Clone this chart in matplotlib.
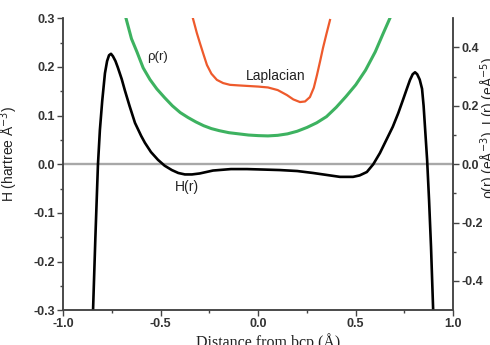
import matplotlib
matplotlib.use('Agg')
import matplotlib.pyplot as plt

# values
h_x = [-0.847, -0.835, -0.822, -0.812, -0.800, -0.786, -0.775, -0.765, -0.755, -0.745, -0.732,
       -0.720, -0.700, -0.684, -0.660, -0.632, -0.600, -0.581, -0.550, -0.514, -0.480, -0.443,
       -0.410, -0.376, -0.340, -0.300, -0.232, -0.140, -0.058, 0.030, 0.111, 0.200, 0.281,
       0.350, 0.419, 0.486, 0.520, 0.557, 0.590, 0.624, 0.657, 0.690, 0.718, 0.742, 0.762,
       0.778, 0.792, 0.804, 0.815, 0.828, 0.840, 0.848, 0.855, 0.866, 0.876, 0.886, 0.897]
h_y = [-0.300, -0.150, -0.002, 0.070, 0.130, 0.187, 0.212, 0.224, 0.227, 0.222, 0.212,
       0.199, 0.175, 0.152, 0.120, 0.085, 0.058, 0.044, 0.025, 0.009, -0.003, -0.012,
       -0.018, -0.021, -0.021, -0.019, -0.013, -0.010, -0.010, -0.011, -0.012, -0.014, -0.018,
       -0.022, -0.026, -0.026, -0.023, -0.016, 0.000, 0.023, 0.050, 0.077, 0.105, 0.132, 0.155,
       0.173, 0.185, 0.189, 0.185, 0.174, 0.155, 0.120, 0.077, 0.009, -0.074, -0.170, -0.300]

rho_x = [-0.678, -0.650, -0.622, -0.590, -0.555, -0.520, -0.480, -0.440, -0.400, -0.360, -0.320,
         -0.280, -0.240, -0.200, -0.150, -0.100, -0.050, 0.000, 0.050, 0.100, 0.150, 0.200,
         0.250, 0.300, 0.350, 0.400, 0.450, 0.500, 0.550, 0.600, 0.640, 0.675]
rho_y = [0.500, 0.430, 0.385, 0.330, 0.290, 0.258, 0.228, 0.200, 0.177, 0.160, 0.145,
         0.132, 0.122, 0.115, 0.108, 0.104, 0.100, 0.098, 0.097, 0.099, 0.104, 0.113,
         0.126, 0.142, 0.163, 0.195, 0.232, 0.272, 0.322, 0.385, 0.447, 0.500]

lap_x = [-0.335, -0.315, -0.299, -0.280, -0.263, -0.240, -0.212, -0.180, -0.145, -0.100, -0.050,
         0.000, 0.050, 0.100, 0.147, 0.180, 0.214, 0.240, 0.265, 0.285, 0.301, 0.318, 0.332,
         0.350, 0.368]
lap_y = [0.500, 0.450, 0.415, 0.375, 0.340, 0.310, 0.289, 0.278, 0.272, 0.270, 0.268,
         0.266, 0.263, 0.254, 0.237, 0.222, 0.213, 0.215, 0.230, 0.262, 0.305, 0.355, 0.398,
         0.447, 0.494]

x_ticks = [-1.0, -0.5, 0.0, 0.5, 1.0]
h_ticks = [-0.3, -0.2, -0.1, 0.0, 0.1, 0.2, 0.3]
r_ticks = [-0.4, -0.2, 0.0, 0.2, 0.4]

plt.rcParams['font.family'] = ['Liberation Sans', 'DejaVu Sans']

fig = plt.figure(figsize=(4.9, 3.45), dpi=100)
ax = fig.add_axes([0.129, 0.101, 0.796, 0.846])
ax2 = ax.twinx()

ax.axhline(0, color='#a8a8a8', lw=1.7, zorder=1)
ax.plot(h_x, h_y, color='black', lw=1.9, zorder=3)
ax2.plot(rho_x, rho_y, color='#3db260', lw=2.2)
ax2.plot(lap_x, lap_y, color='#ee5a2c', lw=1.6)

ax.set_xlim(-1.0, 1.0)
ax.set_ylim(-0.3, 0.3)
ax2.set_ylim(-0.5, 0.5)

ax.set_xticks(x_ticks)
ax.set_xticks([-0.75, -0.25, 0.25, 0.75], minor=True)
ax.set_xticklabels(['%.1f' % v for v in x_ticks], fontweight='bold')
ax.set_yticks(h_ticks)
ax.set_yticks([-0.25, -0.15, -0.05, 0.05, 0.15, 0.25], minor=True)
ax.set_yticklabels(['%.1f' % v for v in h_ticks], fontweight='bold')
ax2.set_yticks(r_ticks)
ax2.set_yticks([-0.3, -0.1, 0.1, 0.3], minor=True)
ax2.set_yticklabels(['%.1f' % v for v in r_ticks], fontweight='bold')

for a in (ax, ax2):
    a.spines['top'].set_visible(False)
    for s in a.spines.values():
        s.set_color('#444444')
        s.set_linewidth(1.1)
    a.tick_params(which='major', direction='out', length=4, width=1.0, color='#444444',
                  labelsize=9, labelcolor='#333333', pad=2)
    a.tick_params(which='minor', direction='out', length=2.5, width=1.0, color='#444444')

ax.set_xlabel('Distance from bcp (Å)', family='Liberation Serif', fontsize=11.5, color='#222222')
ax.xaxis.set_label_coords(0.525, -0.078)
ax.set_ylabel('H (hartree Å$^{-3}$)', fontsize=10, color='#222222')
ax.yaxis.set_label_coords(-0.111, 0.535)
ax2.set_ylabel('ρ(r) (eÅ$^{-3}$), L(r) (eÅ$^{-5}$)', fontsize=10, color='#222222', rotation=90)
ax2.yaxis.set_label_coords(1.066, 0.624)

ax.text(-0.516, 0.220, 'ρ(r)', fontsize=9.5, ha='center', va='center', color='#222222')
ax.text(0.090, 0.181, 'Laplacian', fontsize=10, ha='center', va='center', color='#222222')
ax.text(-0.366, -0.047, 'H(r)', fontsize=10, ha='center', va='center', color='#222222')

fig.savefig('out.png', dpi=100)
